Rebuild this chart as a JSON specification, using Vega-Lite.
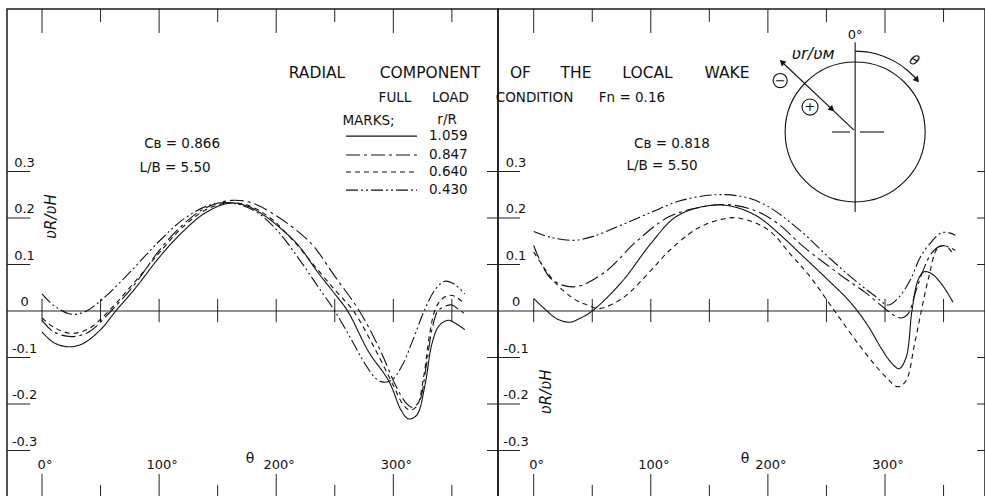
{
  "$schema": "https://vega.github.io/schema/vega-lite/v6.json",
  "background": "white",
  "padding": {"left": 5, "top": 7, "right": 2, "bottom": 1},
  "spacing": 0,
  "bounds": "flush",
  "config": {
    "view": {"stroke": "#1a1a1a", "strokeWidth": 1.5},
    "text": {"font": "DejaVu Sans", "color": "#111"},
    "rule": {"color": "#222", "strokeWidth": 1}
  },
  "datasets": {
    "curves": [
      {"panel":"L","r":"0.430","theta":0,"v":0.037},{"panel":"L","r":"0.430","theta":10,"v":0.012},{"panel":"L","r":"0.430","theta":25,"v":-0.007},{"panel":"L","r":"0.430","theta":38,"v":0.0},{"panel":"L","r":"0.430","theta":50,"v":0.022},{"panel":"L","r":"0.430","theta":70,"v":0.07},{"panel":"L","r":"0.430","theta":100,"v":0.15},{"panel":"L","r":"0.430","theta":120,"v":0.196},{"panel":"L","r":"0.430","theta":140,"v":0.225},{"panel":"L","r":"0.430","theta":155,"v":0.233},{"panel":"L","r":"0.430","theta":170,"v":0.228},{"panel":"L","r":"0.430","theta":185,"v":0.21},{"panel":"L","r":"0.430","theta":202,"v":0.17},{"panel":"L","r":"0.430","theta":220,"v":0.11},{"panel":"L","r":"0.430","theta":235,"v":0.055},{"panel":"L","r":"0.430","theta":250,"v":0.0},{"panel":"L","r":"0.430","theta":265,"v":-0.065},{"panel":"L","r":"0.430","theta":275,"v":-0.11},{"panel":"L","r":"0.430","theta":285,"v":-0.145},{"panel":"L","r":"0.430","theta":292,"v":-0.153},{"panel":"L","r":"0.430","theta":299,"v":-0.148},{"panel":"L","r":"0.430","theta":308,"v":-0.115},{"panel":"L","r":"0.430","theta":316,"v":-0.067},{"panel":"L","r":"0.430","theta":327,"v":0.004},{"panel":"L","r":"0.430","theta":336,"v":0.047},{"panel":"L","r":"0.430","theta":344,"v":0.064},{"panel":"L","r":"0.430","theta":352,"v":0.058},{"panel":"L","r":"0.430","theta":361,"v":0.037},
      {"panel":"L","r":"1.059","theta":0,"v":-0.045},{"panel":"L","r":"1.059","theta":10,"v":-0.068},{"panel":"L","r":"1.059","theta":23,"v":-0.077},{"panel":"L","r":"1.059","theta":35,"v":-0.07},{"panel":"L","r":"1.059","theta":50,"v":-0.04},{"panel":"L","r":"1.059","theta":63,"v":0.0},{"panel":"L","r":"1.059","theta":80,"v":0.05},{"panel":"L","r":"1.059","theta":100,"v":0.115},{"panel":"L","r":"1.059","theta":120,"v":0.17},{"panel":"L","r":"1.059","theta":140,"v":0.212},{"panel":"L","r":"1.059","theta":160,"v":0.232},{"panel":"L","r":"1.059","theta":175,"v":0.226},{"panel":"L","r":"1.059","theta":190,"v":0.205},{"panel":"L","r":"1.059","theta":205,"v":0.175},{"panel":"L","r":"1.059","theta":219,"v":0.141},{"panel":"L","r":"1.059","theta":235,"v":0.085},{"panel":"L","r":"1.059","theta":250,"v":0.037},{"panel":"L","r":"1.059","theta":261,"v":0.0},{"panel":"L","r":"1.059","theta":279,"v":-0.088},{"panel":"L","r":"1.059","theta":296,"v":-0.15},{"panel":"L","r":"1.059","theta":307,"v":-0.215},{"panel":"L","r":"1.059","theta":313,"v":-0.232},{"panel":"L","r":"1.059","theta":320,"v":-0.224},{"panel":"L","r":"1.059","theta":327,"v":-0.16},{"panel":"L","r":"1.059","theta":333,"v":-0.07},{"panel":"L","r":"1.059","theta":339,"v":-0.032},{"panel":"L","r":"1.059","theta":347,"v":-0.02},{"panel":"L","r":"1.059","theta":354,"v":-0.028},{"panel":"L","r":"1.059","theta":361,"v":-0.04},
      {"panel":"L","r":"0.640","theta":0,"v":-0.015},{"panel":"L","r":"0.640","theta":10,"v":-0.035},{"panel":"L","r":"0.640","theta":25,"v":-0.048},{"panel":"L","r":"0.640","theta":40,"v":-0.038},{"panel":"L","r":"0.640","theta":57,"v":0.0},{"panel":"L","r":"0.640","theta":80,"v":0.065},{"panel":"L","r":"0.640","theta":100,"v":0.125},{"panel":"L","r":"0.640","theta":120,"v":0.18},{"panel":"L","r":"0.640","theta":140,"v":0.218},{"panel":"L","r":"0.640","theta":158,"v":0.232},{"panel":"L","r":"0.640","theta":175,"v":0.228},{"panel":"L","r":"0.640","theta":195,"v":0.2},{"panel":"L","r":"0.640","theta":215,"v":0.15},{"panel":"L","r":"0.640","theta":235,"v":0.09},{"panel":"L","r":"0.640","theta":252,"v":0.04},{"panel":"L","r":"0.640","theta":266,"v":0.0},{"panel":"L","r":"0.640","theta":283,"v":-0.075},{"panel":"L","r":"0.640","theta":300,"v":-0.16},{"panel":"L","r":"0.640","theta":308,"v":-0.2},{"panel":"L","r":"0.640","theta":314,"v":-0.213},{"panel":"L","r":"0.640","theta":320,"v":-0.205},{"panel":"L","r":"0.640","theta":326,"v":-0.14},{"panel":"L","r":"0.640","theta":331,"v":-0.05},{"panel":"L","r":"0.640","theta":336,"v":0.005},{"panel":"L","r":"0.640","theta":342,"v":0.027},{"panel":"L","r":"0.640","theta":349,"v":0.034},{"panel":"L","r":"0.640","theta":355,"v":0.028},{"panel":"L","r":"0.640","theta":361,"v":0.015},
      {"panel":"L","r":"0.847","theta":0,"v":-0.02},{"panel":"L","r":"0.847","theta":10,"v":-0.045},{"panel":"L","r":"0.847","theta":25,"v":-0.055},{"panel":"L","r":"0.847","theta":40,"v":-0.045},{"panel":"L","r":"0.847","theta":59,"v":0.0},{"panel":"L","r":"0.847","theta":80,"v":0.06},{"panel":"L","r":"0.847","theta":100,"v":0.13},{"panel":"L","r":"0.847","theta":120,"v":0.185},{"panel":"L","r":"0.847","theta":140,"v":0.222},{"panel":"L","r":"0.847","theta":162,"v":0.238},{"panel":"L","r":"0.847","theta":180,"v":0.232},{"panel":"L","r":"0.847","theta":200,"v":0.205},{"panel":"L","r":"0.847","theta":215,"v":0.178},{"panel":"L","r":"0.847","theta":231,"v":0.142},{"panel":"L","r":"0.847","theta":250,"v":0.075},{"panel":"L","r":"0.847","theta":271,"v":0.0},{"panel":"L","r":"0.847","theta":288,"v":-0.08},{"panel":"L","r":"0.847","theta":302,"v":-0.16},{"panel":"L","r":"0.847","theta":310,"v":-0.195},{"panel":"L","r":"0.847","theta":316,"v":-0.207},{"panel":"L","r":"0.847","theta":322,"v":-0.195},{"panel":"L","r":"0.847","theta":328,"v":-0.12},{"panel":"L","r":"0.847","theta":333,"v":-0.04},{"panel":"L","r":"0.847","theta":338,"v":0.0},{"panel":"L","r":"0.847","theta":344,"v":0.01},{"panel":"L","r":"0.847","theta":350,"v":0.013},{"panel":"L","r":"0.847","theta":355,"v":0.005},{"panel":"L","r":"0.847","theta":361,"v":-0.006},
      {"panel":"R","r":"0.430","theta":0,"v":0.171},{"panel":"R","r":"0.430","theta":15,"v":0.158},{"panel":"R","r":"0.430","theta":34,"v":0.152},{"panel":"R","r":"0.430","theta":50,"v":0.16},{"panel":"R","r":"0.430","theta":75,"v":0.185},{"panel":"R","r":"0.430","theta":100,"v":0.212},{"panel":"R","r":"0.430","theta":125,"v":0.237},{"panel":"R","r":"0.430","theta":155,"v":0.25},{"panel":"R","r":"0.430","theta":180,"v":0.245},{"panel":"R","r":"0.430","theta":200,"v":0.225},{"panel":"R","r":"0.430","theta":229,"v":0.17},{"panel":"R","r":"0.430","theta":250,"v":0.12},{"panel":"R","r":"0.430","theta":270,"v":0.075},{"panel":"R","r":"0.430","theta":290,"v":0.035},{"panel":"R","r":"0.430","theta":303,"v":0.013},{"panel":"R","r":"0.430","theta":312,"v":0.03},{"panel":"R","r":"0.430","theta":322,"v":0.069},{"panel":"R","r":"0.430","theta":330,"v":0.115},{"panel":"R","r":"0.430","theta":340,"v":0.15},{"panel":"R","r":"0.430","theta":348,"v":0.168},{"panel":"R","r":"0.430","theta":355,"v":0.168},{"panel":"R","r":"0.430","theta":360,"v":0.163},
      {"panel":"R","r":"0.847","theta":0,"v":0.141},{"panel":"R","r":"0.847","theta":15,"v":0.069},{"panel":"R","r":"0.847","theta":35,"v":0.052},{"panel":"R","r":"0.847","theta":61,"v":0.084},{"panel":"R","r":"0.847","theta":87,"v":0.148},{"panel":"R","r":"0.847","theta":115,"v":0.202},{"panel":"R","r":"0.847","theta":140,"v":0.222},{"panel":"R","r":"0.847","theta":165,"v":0.229},{"panel":"R","r":"0.847","theta":190,"v":0.215},{"panel":"R","r":"0.847","theta":210,"v":0.185},{"panel":"R","r":"0.847","theta":229,"v":0.141},{"panel":"R","r":"0.847","theta":250,"v":0.1},{"panel":"R","r":"0.847","theta":266,"v":0.07},{"panel":"R","r":"0.847","theta":283,"v":0.04},{"panel":"R","r":"0.847","theta":300,"v":0.005},{"panel":"R","r":"0.847","theta":308,"v":-0.01},{"panel":"R","r":"0.847","theta":314,"v":-0.015},{"panel":"R","r":"0.847","theta":320,"v":-0.005},{"panel":"R","r":"0.847","theta":326,"v":0.04},{"panel":"R","r":"0.847","theta":333,"v":0.09},{"panel":"R","r":"0.847","theta":340,"v":0.125},{"panel":"R","r":"0.847","theta":348,"v":0.14},{"panel":"R","r":"0.847","theta":355,"v":0.137},{"panel":"R","r":"0.847","theta":360,"v":0.13},
      {"panel":"R","r":"1.059","theta":0,"v":0.027},{"panel":"R","r":"1.059","theta":10,"v":0.003},{"panel":"R","r":"1.059","theta":20,"v":-0.017},{"panel":"R","r":"1.059","theta":31,"v":-0.024},{"panel":"R","r":"1.059","theta":40,"v":-0.015},{"panel":"R","r":"1.059","theta":50,"v":0.0},{"panel":"R","r":"1.059","theta":75,"v":0.062},{"panel":"R","r":"1.059","theta":100,"v":0.145},{"panel":"R","r":"1.059","theta":120,"v":0.2},{"panel":"R","r":"1.059","theta":140,"v":0.222},{"panel":"R","r":"1.059","theta":165,"v":0.227},{"panel":"R","r":"1.059","theta":190,"v":0.205},{"panel":"R","r":"1.059","theta":210,"v":0.165},{"panel":"R","r":"1.059","theta":229,"v":0.12},{"panel":"R","r":"1.059","theta":250,"v":0.07},{"panel":"R","r":"1.059","theta":270,"v":0.02},{"panel":"R","r":"1.059","theta":285,"v":-0.03},{"panel":"R","r":"1.059","theta":297,"v":-0.081},{"panel":"R","r":"1.059","theta":305,"v":-0.11},{"panel":"R","r":"1.059","theta":312,"v":-0.124},{"panel":"R","r":"1.059","theta":318,"v":-0.1},{"panel":"R","r":"1.059","theta":323,"v":0.0},{"panel":"R","r":"1.059","theta":328,"v":0.065},{"panel":"R","r":"1.059","theta":333,"v":0.084},{"panel":"R","r":"1.059","theta":340,"v":0.08},{"panel":"R","r":"1.059","theta":350,"v":0.052},{"panel":"R","r":"1.059","theta":358,"v":0.019},
      {"panel":"R","r":"0.640","theta":0,"v":0.127},{"panel":"R","r":"0.640","theta":18,"v":0.062},{"panel":"R","r":"0.640","theta":35,"v":0.025},{"panel":"R","r":"0.640","theta":47,"v":0.012},{"panel":"R","r":"0.640","theta":55,"v":0.005},{"panel":"R","r":"0.640","theta":75,"v":0.026},{"panel":"R","r":"0.640","theta":104,"v":0.098},{"panel":"R","r":"0.640","theta":115,"v":0.128},{"panel":"R","r":"0.640","theta":140,"v":0.178},{"panel":"R","r":"0.640","theta":160,"v":0.197},{"panel":"R","r":"0.640","theta":175,"v":0.2},{"panel":"R","r":"0.640","theta":200,"v":0.175},{"panel":"R","r":"0.640","theta":220,"v":0.12},{"panel":"R","r":"0.640","theta":235,"v":0.077},{"panel":"R","r":"0.640","theta":257,"v":0.0},{"panel":"R","r":"0.640","theta":280,"v":-0.08},{"panel":"R","r":"0.640","theta":300,"v":-0.14},{"panel":"R","r":"0.640","theta":311,"v":-0.163},{"panel":"R","r":"0.640","theta":318,"v":-0.15},{"panel":"R","r":"0.640","theta":325,"v":-0.074},{"panel":"R","r":"0.640","theta":331,"v":0.0},{"panel":"R","r":"0.640","theta":337,"v":0.069},{"panel":"R","r":"0.640","theta":345,"v":0.135},{"panel":"R","r":"0.640","theta":352,"v":0.14},{"panel":"R","r":"0.640","theta":358,"v":0.123}
    ],
    "ylabels": [{"y":0.3,"t":"0.3"},{"y":0.2,"t":"0.2"},{"y":0.1,"t":"0.1"},{"y":0,"t":"0"},{"y":-0.1,"t":"-0.1"},{"y":-0.2,"t":"-0.2"},{"y":-0.3,"t":"-0.3"}],
    "yticks": [{"y":0.3},{"y":0.2},{"y":0.1},{"y":-0.1},{"y":-0.2},{"y":-0.3}],
    "xlabels": [{"x":0,"t":"0°"},{"x":100,"t":"100°"},{"x":200,"t":"200°"},{"x":300,"t":"300°"}],
    "ticksAll": [{"x":0},{"x":50},{"x":100},{"x":150},{"x":200},{"x":250},{"x":300},{"x":350}],
    "ticksLong": [{"x":0},{"x":100},{"x":200},{"x":300}],
    "ticksShort": [{"x":50},{"x":150},{"x":250},{"x":350}]
  },
  "hconcat": [
    {
      "width": 491,
      "height": 488,
      "layer": [
        {"data": {"values": [{"y": 0}]}, "mark": {"type": "rule"}, "encoding": {"y": {"field": "y", "type": "quantitative", "scale": {"domain": [-0.4, 0.6495], "nice": false, "zero": false}, "axis": null}}},
        {"data": {"name": "ticksAll"}, "mark": {"type": "rule"}, "encoding": {"x": {"field": "x", "type": "quantitative", "scale": {"domain": [-29.9, 389.4], "nice": false, "zero": false}, "axis": null}, "y": {"datum": -0.024, "type": "quantitative"}, "y2": {"datum": 0.026}}},
        {"data": {"name": "ticksLong"}, "mark": {"type": "rule"}, "encoding": {"x": {"field": "x", "type": "quantitative"}, "y": {"datum": 0.598, "type": "quantitative"}, "y2": {"datum": 0.6495}}},
        {"data": {"name": "ticksShort"}, "mark": {"type": "rule"}, "encoding": {"x": {"field": "x", "type": "quantitative"}, "y": {"datum": 0.6215, "type": "quantitative"}, "y2": {"datum": 0.6495}}},
        {"data": {"name": "ticksLong"}, "mark": {"type": "rule"}, "encoding": {"x": {"field": "x", "type": "quantitative"}, "y": {"datum": -0.4, "type": "quantitative"}, "y2": {"datum": -0.3505}}},
        {"data": {"name": "ticksShort"}, "mark": {"type": "rule"}, "encoding": {"x": {"field": "x", "type": "quantitative"}, "y": {"datum": -0.4, "type": "quantitative"}, "y2": {"datum": -0.374}}},
        {"data": {"name": "yticks"}, "mark": {"type": "rule"}, "encoding": {"y": {"field": "y", "type": "quantitative"}, "x": {"datum": -29.9, "type": "quantitative"}, "x2": {"datum": -10}}},
        {"data": {"name": "yticks"}, "mark": {"type": "rule"}, "encoding": {"y": {"field": "y", "type": "quantitative"}, "x": {"datum": 380, "type": "quantitative"}, "x2": {"datum": 389.4}}},
        {"data": {"name": "ylabels"}, "mark": {"type": "text", "fontSize": 13, "align": "center", "baseline": "bottom", "dy": -2}, "encoding": {"y": {"field": "y", "type": "quantitative"}, "x": {"datum": -14.9, "type": "quantitative"}, "text": {"field": "t"}}},
        {"data": {"name": "xlabels"}, "mark": {"type": "text", "fontSize": 13, "align": "center", "baseline": "middle", "dx": 3}, "encoding": {"x": {"field": "x", "type": "quantitative"}, "y": {"datum": -0.331, "type": "quantitative"}, "text": {"field": "t"}}},
        {"data": {"name": "curves"}, "transform": [{"filter": "datum.panel == 'L'"}], "mark": {"type": "line", "interpolate": "catmull-rom", "strokeWidth": 1.1, "color": "#111"}, "encoding": {"x": {"field": "theta", "type": "quantitative"}, "y": {"field": "v", "type": "quantitative"}, "strokeDash": {"field": "r", "type": "nominal", "scale": {"domain": ["1.059", "0.847", "0.640", "0.430"], "range": [[1, 0], [14, 4, 3, 4], [5, 4], [12, 3, 2, 3, 2, 3]]}, "legend": null}, "detail": {"field": "r"}}},
        {"data": {"values": [{"r": "1.059", "ly": 0.376}, {"r": "0.847", "ly": 0.3355}, {"r": "0.640", "ly": 0.299}, {"r": "0.430", "ly": 0.26}]}, "mark": {"type": "rule", "color": "#111", "strokeWidth": 1.1}, "encoding": {"y": {"field": "ly", "type": "quantitative"}, "x": {"datum": 259.6, "type": "quantitative"}, "x2": {"datum": 320.2}, "strokeDash": {"field": "r", "type": "nominal", "legend": null}}},
        {"data": {"values": [{"r": "1.059", "ly": 0.376}, {"r": "0.847", "ly": 0.3355}, {"r": "0.640", "ly": 0.299}, {"r": "0.430", "ly": 0.26}]}, "mark": {"type": "text", "fontSize": 13.5, "align": "left", "baseline": "middle"}, "encoding": {"y": {"field": "ly", "type": "quantitative"}, "x": {"datum": 330.5, "type": "quantitative"}, "text": {"field": "r"}}},
        {"data": {"values": [{"x": 278.8, "y": 0.4086, "t": "MARKS;"}, {"x": 345.9, "y": 0.4108, "t": "r/R"}, {"x": 119.6, "y": 0.359, "t": "Cʙ = 0.866"}, {"x": 113.6, "y": 0.3075, "t": "L/B = 5.50"}]}, "mark": {"type": "text", "fontSize": 13.5, "align": "center", "baseline": "middle"}, "encoding": {"x": {"field": "x", "type": "quantitative"}, "y": {"field": "y", "type": "quantitative"}, "text": {"field": "t"}}},
        {"data": {"values": [{"x": 177.6, "y": -0.318, "t": "θ"}]}, "mark": {"type": "text", "fontSize": 14, "align": "center", "baseline": "middle"}, "encoding": {"x": {"field": "x", "type": "quantitative"}, "y": {"field": "y", "type": "quantitative"}, "text": {"field": "t"}}},
        {"data": {"values": [{"x": 8.1, "y": 0.203, "t": "ʋR/ʋH"}]}, "mark": {"type": "text", "fontSize": 15, "fontStyle": "italic", "angle": 270, "align": "center", "baseline": "middle"}, "encoding": {"x": {"field": "x", "type": "quantitative"}, "y": {"field": "y", "type": "quantitative"}, "text": {"field": "t"}}}
      ]
    },
    {
      "width": 487,
      "height": 488,
      "layer": [
        {"data": {"values": [{"y": 0}]}, "mark": {"type": "rule"}, "encoding": {"y": {"field": "y", "type": "quantitative", "scale": {"domain": [-0.4, 0.6495], "nice": false, "zero": false}, "axis": null}}},
        {"data": {"name": "ticksAll"}, "mark": {"type": "rule"}, "encoding": {"x": {"field": "x", "type": "quantitative", "scale": {"domain": [-30.5, 385.4], "nice": false, "zero": false}, "axis": null}, "y": {"datum": -0.024, "type": "quantitative"}, "y2": {"datum": 0.026}}},
        {"data": {"name": "ticksLong"}, "mark": {"type": "rule"}, "encoding": {"x": {"field": "x", "type": "quantitative"}, "y": {"datum": 0.598, "type": "quantitative"}, "y2": {"datum": 0.6495}}},
        {"data": {"name": "ticksShort"}, "mark": {"type": "rule"}, "encoding": {"x": {"field": "x", "type": "quantitative"}, "y": {"datum": 0.6215, "type": "quantitative"}, "y2": {"datum": 0.6495}}},
        {"data": {"name": "ticksLong"}, "mark": {"type": "rule"}, "encoding": {"x": {"field": "x", "type": "quantitative"}, "y": {"datum": -0.4, "type": "quantitative"}, "y2": {"datum": -0.3505}}},
        {"data": {"name": "ticksShort"}, "mark": {"type": "rule"}, "encoding": {"x": {"field": "x", "type": "quantitative"}, "y": {"datum": -0.4, "type": "quantitative"}, "y2": {"datum": -0.374}}},
        {"data": {"name": "yticks"}, "mark": {"type": "rule"}, "encoding": {"y": {"field": "y", "type": "quantitative"}, "x": {"datum": -30.5, "type": "quantitative"}, "x2": {"datum": -11.7}}},
        {"data": {"name": "yticks"}, "mark": {"type": "rule"}, "encoding": {"y": {"field": "y", "type": "quantitative"}, "x": {"datum": 378.7, "type": "quantitative"}, "x2": {"datum": 385.4}}},
        {"data": {"name": "ylabels"}, "mark": {"type": "text", "fontSize": 13, "align": "center", "baseline": "bottom", "dy": -2}, "encoding": {"y": {"field": "y", "type": "quantitative"}, "x": {"datum": -15.1, "type": "quantitative"}, "text": {"field": "t"}}},
        {"data": {"name": "xlabels"}, "mark": {"type": "text", "fontSize": 13, "align": "center", "baseline": "middle", "dx": 3}, "encoding": {"x": {"field": "x", "type": "quantitative"}, "y": {"datum": -0.331, "type": "quantitative"}, "text": {"field": "t"}}},
        {"data": {"name": "curves"}, "transform": [{"filter": "datum.panel == 'R'"}], "mark": {"type": "line", "interpolate": "catmull-rom", "strokeWidth": 1.1, "color": "#111"}, "encoding": {"x": {"field": "theta", "type": "quantitative"}, "y": {"field": "v", "type": "quantitative"}, "strokeDash": {"field": "r", "type": "nominal", "scale": {"domain": ["1.059", "0.847", "0.640", "0.430"], "range": [[1, 0], [14, 4, 3, 4], [5, 4], [12, 3, 2, 3, 2, 3]]}, "legend": null}, "detail": {"field": "r"}}},
        {"data": {"values": [{"x": -185.1, "y": 0.512, "t": "RADIAL"}, {"x": -88.6, "y": 0.512, "t": "COMPONENT"}, {"x": -11.3, "y": 0.512, "t": "OF"}, {"x": 36.1, "y": 0.512, "t": "THE"}, {"x": 97.2, "y": 0.512, "t": "LOCAL"}, {"x": 165.1, "y": 0.512, "t": "WAKE"}]}, "mark": {"type": "text", "fontSize": 15.5, "align": "center", "baseline": "middle"}, "encoding": {"x": {"field": "x", "type": "quantitative"}, "y": {"field": "y", "type": "quantitative"}, "text": {"field": "t"}}},
        {"data": {"values": [{"x": -118.5, "y": 0.458, "t": "FULL"}, {"x": -71.1, "y": 0.458, "t": "LOAD"}, {"x": 0.7, "y": 0.458, "t": "CONDITION"}, {"x": 83.9, "y": 0.458, "t": "Fn = 0.16"}, {"x": 118.1, "y": 0.359, "t": "Cʙ = 0.818"}, {"x": 109.6, "y": 0.312, "t": "L/B = 5.50"}]}, "mark": {"type": "text", "fontSize": 13.5, "align": "center", "baseline": "middle"}, "encoding": {"x": {"field": "x", "type": "quantitative"}, "y": {"field": "y", "type": "quantitative"}, "text": {"field": "t"}}},
        {"data": {"values": [{"x": 180.4, "y": -0.318, "t": "θ"}]}, "mark": {"type": "text", "fontSize": 14, "align": "center", "baseline": "middle"}, "encoding": {"x": {"field": "x", "type": "quantitative"}, "y": {"field": "y", "type": "quantitative"}, "text": {"field": "t"}}},
        {"data": {"values": [{"x": 10.1, "y": -0.174, "t": "ʋR/ʋH"}]}, "mark": {"type": "text", "fontSize": 15, "fontStyle": "italic", "angle": 270, "align": "center", "baseline": "middle"}, "encoding": {"x": {"field": "x", "type": "quantitative"}, "y": {"field": "y", "type": "quantitative"}, "text": {"field": "t"}}},
        {"data": {"values": [{"x": 274.5, "y": 0.385}]}, "mark": {"type": "point", "shape": "circle", "filled": false, "size": 19600, "color": "#111", "strokeWidth": 1.1, "opacity": 1}, "encoding": {"x": {"field": "x", "type": "quantitative"}, "y": {"field": "y", "type": "quantitative"}}},
        {"data": {"values": [{"x": 274.5, "y": 0.213, "x2": 274.5, "y2": 0.578}, {"x": 254.7, "y": 0.385, "x2": 270.1, "y2": 0.385}, {"x": 278.6, "y": 0.385, "x2": 299.1, "y2": 0.385}, {"x": 212.0, "y": 0.5355, "x2": 273.5, "y2": 0.389}]}, "mark": {"type": "rule", "color": "#111", "strokeWidth": 1.1}, "encoding": {"x": {"field": "x", "type": "quantitative"}, "y": {"field": "y", "type": "quantitative"}, "x2": {"field": "x2"}, "y2": {"field": "y2"}}},
        {"data": {"values": [{"x": 274.5, "y": 0.559}, {"x": 286.4, "y": 0.5565}, {"x": 298.0, "y": 0.5486}, {"x": 309.0, "y": 0.5358}, {"x": 318.8, "y": 0.5184}, {"x": 326.5, "y": 0.5}]}, "mark": {"type": "line", "interpolate": "monotone", "color": "#111", "strokeWidth": 1.1}, "encoding": {"x": {"field": "x", "type": "quantitative"}, "y": {"field": "y", "type": "quantitative"}}},
        {"data": {"values": [{"x": 327.4, "y": 0.4969, "a": 140}, {"x": 254.7, "y": 0.434, "a": 133.4}, {"x": 212.0, "y": 0.5355, "a": 313.4}]}, "mark": {"type": "point", "shape": "triangle-up", "filled": true, "size": 45, "color": "#111", "opacity": 1}, "encoding": {"x": {"field": "x", "type": "quantitative"}, "y": {"field": "y", "type": "quantitative"}, "angle": {"field": "a", "type": "quantitative", "scale": null}}},
        {"data": {"values": [{"x": 210.5, "y": 0.4957, "t": "−"}]}, "mark": {"type": "point", "shape": "circle", "filled": false, "size": 200, "color": "#111", "strokeWidth": 1.1, "opacity": 1}, "encoding": {"x": {"field": "x", "type": "quantitative"}, "y": {"field": "y", "type": "quantitative"}}},
        {"data": {"values": [{"x": 236.0, "y": 0.4387, "t": "+"}]}, "mark": {"type": "point", "shape": "circle", "filled": false, "size": 260, "color": "#111", "strokeWidth": 1.1, "opacity": 1}, "encoding": {"x": {"field": "x", "type": "quantitative"}, "y": {"field": "y", "type": "quantitative"}}},
        {"data": {"values": [{"x": 210.5, "y": 0.4957, "t": "−"}, {"x": 236.0, "y": 0.4387, "t": "+"}, {"x": 274.5, "y": 0.594, "t": "0°"}]}, "mark": {"type": "text", "fontSize": 13, "align": "center", "baseline": "middle"}, "encoding": {"x": {"field": "x", "type": "quantitative"}, "y": {"field": "y", "type": "quantitative"}, "text": {"field": "t"}}},
        {"data": {"values": [{"x": 238.6, "y": 0.5527, "t": "ʋr/ʋᴍ"}]}, "mark": {"type": "text", "fontSize": 16, "fontStyle": "italic", "align": "center", "baseline": "middle"}, "encoding": {"x": {"field": "x", "type": "quantitative"}, "y": {"field": "y", "type": "quantitative"}, "text": {"field": "t"}}},
        {"data": {"values": [{"x": 324.7, "y": 0.5376, "t": "θ"}]}, "mark": {"type": "text", "fontSize": 14, "fontStyle": "italic", "angle": 30, "align": "center", "baseline": "middle"}, "encoding": {"x": {"field": "x", "type": "quantitative"}, "y": {"field": "y", "type": "quantitative"}, "text": {"field": "t"}}}
      ]
    }
  ]
}
